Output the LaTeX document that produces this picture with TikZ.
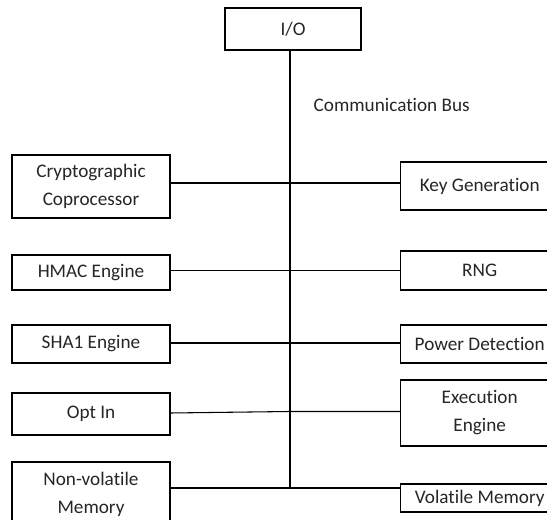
\documentclass[tikz,border=0pt]{standalone}
\usepackage{fontspec}
\setmainfont{Carlito}[Ligatures=NoCommon]
\usepackage{tikz}
\usetikzlibrary{positioning,calc}

\begin{document}
\begin{tikzpicture}[
    x=0.75pt, y=-0.75pt,
    font=\fontsize{14.4}{21}\selectfont,
    box/.style={rectangle, draw, line width=0.8pt, minimum width=118.5pt, inner sep=0pt, fill=white, align=center, text=black!85},
    bus/.style={line width=0.8pt}
]

    % --- 0. Frame ---
    \useasboundingbox (0,0) rectangle (547,520);
    \clip (0,0) rectangle (547,520);

    % --- 1. Define Nodes First ---

    % Top
    \node[box, minimum width=102pt, minimum height=31.5pt] (io) at (293,29) {I/O};
    \node[anchor=west, text=black!85] (commbus) at (309,105) {Communication Bus};

    % Left column
    \node[box, minimum height=47.25pt] (crypto) at (91,186.5) {Cryptographic\\Coprocessor};
    \node[box, minimum height=26.25pt] (hmac) at (91,272.5) {HMAC Engine};
    \node[box, minimum height=28.5pt] (sha) at (91,344) {SHA1 Engine};
    \node[box, minimum height=31.5pt] (optin) at (91,414) {Opt In};
    \node[box, minimum height=48pt] (nvm) at (91,494) {Non-volatile\\Memory};

    % Right column
    \node[box, minimum height=36pt] (keygen) at (479.7,186) {Key Generation};
    \node[box, minimum height=29.25pt] (rng) at (479.7,270.5) {RNG};
    \node[box, minimum height=28.5pt] (power) at (479.7,344) {Power Detection};
    \node[box, minimum height=49.5pt] (exec) at (479.7,413) {Execution\\Engine};
    \node[box, minimum height=21pt] (vmem) at (479.7,498) {Volatile Memory};

    % --- 1.5 Bus Taps ---
    \coordinate (tap1) at (290,183);
    \coordinate (tap2) at (290,270.5);
    \coordinate (tap3) at (290,343);
    \coordinate (tap4) at (290,411.5);
    \coordinate (tap5) at (290,488);

    % --- 2. Connections ---
    \draw[bus] (io.south -| tap1) -- (tap5);
    \draw[bus] (crypto.east |- tap1) -- (keygen.west |- tap1);
    \draw[bus] (hmac.east |- tap2) -- (rng.west |- tap2);
    \draw[bus] (sha.east |- tap3) -- (power.west |- tap3);
    \draw[bus] ($(optin.east)+(0,-1)$) -- (tap4) -- (exec.west |- tap4);
    \draw[bus] (nvm.east |- tap5) -- (vmem.west |- tap5);

\end{tikzpicture}
\end{document}
